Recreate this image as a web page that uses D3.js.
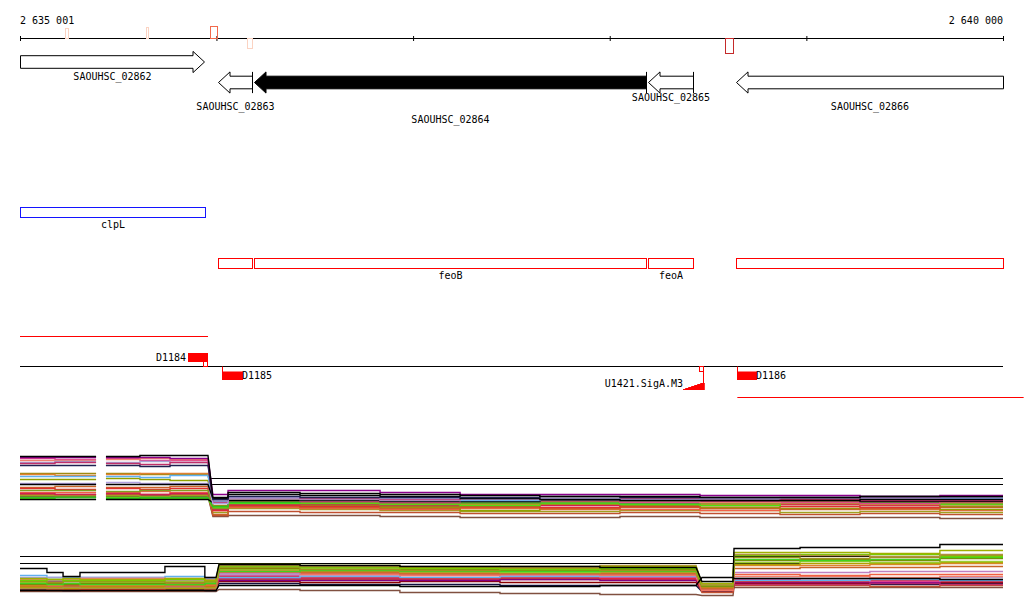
<!DOCTYPE html>
<html><head><meta charset="utf-8">
<script src="https://cdn.jsdelivr.net/npm/d3@7"></script>
<style>
body{margin:0;background:#fff}
svg{display:block}
text{font-family:"DejaVu Sans Mono",monospace;font-size:10px;fill:#000}
</style>
</head><body><svg id="c" width="1024" height="611"></svg>
<script>
// ---------------- DATA ----------------
const viewStart = 2635001, viewEnd = 2640000;
const axisTicks = [2635001, 2636000, 2637000, 2638000, 2639000, 2640000];
const axisLabels = ["2 635 001", "2 640 000"];

const markStarts = [2635230, 2635640, 2635967, 2636157, 2638588];
const markEnds   = [2635247, 2635653, 2636001, 2636182, 2638625];
const markScores = [0.7, 0.75, 0.85, 0.7, 1.0];
const markStrand = [1, 1, 1, -1, -1];
const markColors = ["#fbd3c2", "#fbd3c2", "#f26a4c", "#fbd3c2", "#c42a2a"];

const geneNames  = ["SAOUHSC_02862", "SAOUHSC_02863", "SAOUHSC_02864", "SAOUHSC_02865", "SAOUHSC_02866"];
const geneStarts = [2635001, 2636008, 2636191, 2638194, 2638642];
const geneEnds   = [2635937, 2636180, 2638184, 2638423, 2640000];
const geneStrand = [1, -1, -1, -1, -1];
const geneSelected = [false, false, true, false, false];
const geneTailBar  = [false, true, true, true, false];

const clpNames = ["clpL"], clpStarts = [2635001], clpEnds = [2635940];
const feoNames = ["", "feoB", "feoA", ""];
const feoStarts = [2636008, 2636191, 2638194, 2638642];
const feoEnds   = [2636180, 2638184, 2638423, 2640000];

const transcriptStarts = [2635001, 2638649];
const transcriptEnds   = [2635957, 2640105];
const transcriptStrand = [1, -1];

const promoterNames  = ["D1184", "D1185", "D1186"];
const promoterStarts = [2635855, 2636030, 2638649];
const promoterEnds   = [2635957, 2636134, 2638751];
const promoterStrand = [1, -1, -1];

const motifNames  = ["U1421.SigA.M3"];
const motifStarts = [2638373];
const motifEnds   = [2638479];

// expression panel 1 (probe intervals)
const probeStart1 = [2635001, 2635179, 2635438, 2635611, 2635764, 2635982, 2636059, 2636425, 2636832, 2637239,
                     2637645, 2638052, 2638459, 2638866, 2639273, 2639679];
const probeEnd1   = [2635179, 2635388, 2635611, 2635764, 2635957, 2636059, 2636425, 2636832, 2637239, 2637645,
                     2638052, 2638459, 2638866, 2639273, 2639679, 2640000];
const panel1Refs = [5.2, 4.6];
const panel1RefStart = 2635967;
const panel1Colors = ["#805040","#c05030","#a0a020","#f06048","#90a000","#c86428","#e03030","#a08a10",
  "#d02050","#e08030","#50e010","#80a020","#30c020","#e04090","#f08070","#000000","#60b0f0","#a8a0d0",
  "#c0306a","#b0a0e0","#000000","#202050","#8b008b","#000000"];
const panel1Series = [
 [3.4,3.4,3.4,3.5,3.4,1.4,1.5,1.5,1.4,1.3,1.3,1.4,1.3,1.3,1.3,1.2],
 [3.6,3.6,3.6,3.6,3.6,1.5,1.9,1.8,1.8,1.7,1.7,1.8,1.7,1.6,1.7,1.6],
 [3.5,3.5,3.5,3.4,3.5,1.8,2.2,2.1,2.0,1.9,1.9,2.0,2.0,1.8,1.9,1.8],
 [3.8,3.8,3.8,3.9,3.8,2.0,2.3,2.2,2.1,2.2,2.1,2.1,2.0,2.2,2.1,2.0],
 [5.1,5.1,5.2,5.1,5.0,2.4,2.6,2.5,2.3,2.0,2.2,2.4,2.3,2.2,2.2,2.1],
 [4.3,4.4,4.3,4.3,4.4,1.6,2.4,2.3,2.2,2.3,2.2,2.3,2.2,2.1,2.2,2.3],
 [4.2,4.1,4.2,4.1,4.2,2.0,2.5,2.4,2.5,2.4,2.3,2.4,2.5,2.4,2.3,2.4],
 [5.7,5.7,5.7,5.6,5.6,2.5,2.7,2.6,2.4,2.5,2.6,2.5,2.5,2.6,2.5,2.4],
 [3.7,3.6,3.7,3.6,3.7,2.1,2.6,2.6,2.5,2.6,2.5,2.6,2.7,2.6,2.5,2.6],
 [5.6,5.5,5.6,5.7,5.7,2.3,2.8,2.8,2.7,2.6,2.7,2.7,2.6,2.7,2.6,2.6],
 [3.2,3.3,3.3,3.2,3.2,2.3,2.7,2.7,2.6,2.5,2.7,2.6,2.5,2.8,2.7,2.6],
 [4.0,4.0,3.9,4.0,4.0,2.2,2.9,2.8,2.7,2.7,2.8,2.8,2.7,2.8,2.8,2.7],
 [3.3,3.3,3.2,3.3,3.3,2.4,2.8,2.9,2.8,2.8,2.8,2.7,2.9,2.9,2.8,2.8],
 [7.2,7.1,7.2,7.0,7.0,2.8,3.0,2.9,2.8,2.9,3.0,2.8,2.9,2.8,2.7,2.9],
 [7.0,7.0,7.1,7.2,7.1,2.9,3.1,3.0,2.9,3.0,2.9,2.9,2.8,2.9,2.9,2.8],
 [3.1,3.1,3.1,3.1,3.1,2.8,3.0,3.0,2.9,2.9,3.0,3.0,3.0,3.0,2.9,2.9],
 [5.4,5.4,5.4,5.3,5.5,2.9,3.2,3.2,3.1,3.0,3.1,3.2,3.2,3.1,3.2,3.2],
 [6.8,6.9,6.8,6.9,6.8,3.0,3.2,3.1,3.0,3.1,3.1,3.0,3.1,3.2,3.2,3.1],
 [6.7,6.8,6.7,6.6,6.8,2.8,3.3,3.2,3.1,3.2,3.1,3.2,3.0,3.1,3.0,3.0],
 [4.7,4.7,4.8,4.7,4.7,2.7,3.3,3.3,3.2,3.2,3.2,3.1,3.2,3.3,3.3,3.3],
 [4.6,4.6,4.6,4.6,4.6,3.2,3.6,3.5,3.4,3.2,3.1,3.0,3.0,3.0,3.1,3.1],
 [6.5,6.5,6.5,6.4,6.5,3.1,3.4,3.3,3.3,3.3,3.4,3.3,3.3,3.3,3.4,3.4],
 [7.3,7.3,7.3,7.3,7.2,3.6,4.0,4.0,3.8,3.6,3.6,3.6,3.5,3.5,3.4,3.5],
 [7.4,7.4,7.4,7.5,7.5,3.3,3.8,3.7,3.6,3.5,3.4,3.4,3.3,3.3,3.4,3.4]
];

// expression panel 2 (probe intervals)
const probeStart2 = [2635001, 2635138, 2635220, 2635306, 2635738, 2635941, 2636013, 2636425, 2636933, 2637442,
                     2637950, 2638469, 2638632, 2638968, 2639323, 2639679];
const probeEnd2   = [2635138, 2635220, 2635306, 2635738, 2635941, 2635998, 2636425, 2636933, 2637442, 2637950,
                     2638439, 2638627, 2638968, 2639323, 2639679, 2640000];
const panel2Refs = [4.45, 3.75];
const panel2Colors = ["#805040","#101040","#8b0000","#c05030","#c0306a","#800080","#e02020","#e04090",
  "#60b0f0","#a8a0d8","#f08070","#f06040","#c080c0","#c86428","#e08030","#b0a000","#9acd32","#808000",
  "#40d020","#a09020","#70d000","#b09040","#a0b000","#000000","#000000"];
const panel2Series = [
 [0.9,0.9,0.9,0.9,0.9,0.9,1.1,1.0,0.8,0.7,0.6,0.5,1.3,1.3,1.3,1.3],
 [1.1,1.1,1.0,1.1,1.1,1.0,1.7,1.6,1.6,1.5,1.5,0.9,1.7,1.6,1.6,1.7],
 [1.4,1.5,1.4,1.5,1.4,1.5,1.9,1.8,1.9,1.8,1.8,1.0,1.7,1.7,1.8,1.8],
 [1.0,1.1,1.1,1.0,1.0,1.1,2.1,2.1,2.2,2.2,2.2,0.8,1.5,1.5,1.4,1.5],
 [1.5,1.4,1.5,1.4,1.5,1.4,2.2,2.2,2.1,2.1,2.1,1.1,1.6,1.6,1.7,1.6],
 [2.0,1.9,1.9,2.0,1.9,1.9,2.0,2.0,2.0,2.1,2.0,1.1,1.8,1.8,1.8,1.9],
 [1.2,1.2,1.2,1.1,1.2,1.2,2.4,2.3,2.2,2.3,2.2,1.0,1.9,1.9,2.0,1.9],
 [1.3,1.4,1.3,1.3,1.4,1.3,2.5,2.4,2.5,2.4,2.3,1.2,2.1,2.0,1.9,2.0],
 [2.5,2.3,2.3,2.3,2.4,2.2,2.3,2.4,2.3,2.4,2.4,1.4,2.0,2.0,2.1,2.0],
 [2.3,2.3,2.2,2.3,2.2,2.3,2.6,2.5,2.6,2.5,2.5,1.3,2.2,2.2,2.2,2.3],
 [2.1,2.0,2.1,2.2,2.0,2.1,2.7,2.6,2.5,2.6,2.5,1.0,2.4,2.4,2.3,2.4],
 [1.7,1.6,1.6,1.6,1.7,1.5,2.8,2.7,2.6,2.6,2.6,1.1,2.6,2.5,2.6,2.6],
 [1.9,2.0,2.0,1.9,2.0,2.0,2.7,2.8,2.7,2.7,2.7,1.2,2.8,2.8,2.9,2.9],
 [1.4,1.3,1.4,1.4,1.3,1.4,2.9,2.8,2.7,2.7,2.7,1.2,3.2,3.3,3.3,3.4],
 [1.5,1.5,1.6,1.5,1.5,1.6,3.0,2.9,2.8,2.9,2.8,1.3,3.5,3.5,3.6,3.7],
 [1.3,1.3,1.2,1.3,1.2,1.3,3.2,3.1,3.2,3.2,3.1,1.4,3.6,3.7,3.7,3.8],
 [1.8,1.8,1.7,1.8,1.9,1.8,3.1,3.2,2.9,2.8,2.9,1.5,3.8,3.9,3.8,3.9],
 [1.6,1.7,1.6,1.7,1.6,1.7,3.2,3.0,3.1,3.0,3.1,1.4,4.0,4.1,4.0,4.2],
 [1.7,1.6,1.7,1.6,1.6,1.7,2.9,3.0,2.9,2.9,2.9,1.5,4.1,4.0,4.1,4.3],
 [1.9,1.8,1.9,1.9,1.8,1.9,3.3,3.1,3.0,3.1,3.0,1.5,4.3,4.2,4.3,4.5],
 [2.0,2.1,2.0,2.0,2.1,2.0,3.4,3.3,3.2,3.1,3.2,1.6,4.5,4.6,4.6,4.4],
 [1.2,1.2,1.3,1.2,1.3,1.2,3.5,3.4,3.4,3.3,3.5,1.6,4.6,4.5,4.4,4.6],
 [2.2,2.1,2.2,2.1,2.2,2.0,3.6,3.5,3.3,3.4,3.4,1.7,4.8,4.8,4.7,5.0],
 [1.0,1.0,1.0,1.0,1.0,1.0,1.5,1.5,1.4,1.4,1.5,2.3,2.2,2.2,2.2,2.1],
 [3.2,2.8,2.4,2.8,3.4,2.3,3.6,3.5,3.4,3.4,3.3,1.9,5.2,5.3,5.3,5.6]
];

// ---------------- DRAWING ----------------
const svg = d3.select("#c");
svg.append("rect").attr("width",1024).attr("height",611).attr("fill","#fff");
const x = d3.scaleLinear().domain([viewStart, viewEnd]).range([20, 1003]);

// ruler
const axisY = 38.5;
const ax = svg.append("g").attr("transform","translate(0,36)")
  .call(d3.axisBottom(x).tickValues(axisTicks).tickSize(5).tickFormat(""));
ax.select(".domain").remove();
ax.selectAll(".tick line").attr("stroke","#000");
svg.append("line").attr("x1",x(viewStart)).attr("x2",x(viewEnd)).attr("y1",axisY).attr("y2",axisY)
  .attr("stroke","#000");
svg.append("text").attr("x",x(viewStart)).attr("y",24).text(axisLabels[0]);
svg.append("text").attr("x",x(viewEnd)).attr("y",24).attr("text-anchor","end").text(axisLabels[1]);

const hScale = d3.scaleLinear().domain([0,1]).range([0,14.5]);
markStarts.forEach((s,i)=>{
  const h = hScale(markScores[i]);
  const x0 = Math.round(x(s))+0.5, x1 = Math.round(x(markEnds[i]))+0.5;
  svg.append("rect").attr("x",x0).attr("width",Math.max(2,x1-x0))
    .attr("y", markStrand[i]>0 ? axisY-h : axisY).attr("height",h)
    .attr("fill","none").attr("stroke",markColors[i]).attr("shape-rendering","crispEdges");
});

// genes
const geneLabelY = [80, 110, 122.5, 101, 110];
function arrowPath(x0,x1,strand,cy){
  const bh=6.3, hh=10.6, hl=11.5;
  if(strand>0) return `M${x0},${cy-bh}L${x1-hl},${cy-bh}L${x1-hl},${cy-hh}L${x1},${cy}L${x1-hl},${cy+hh}L${x1-hl},${cy+bh}L${x0},${cy+bh}Z`;
  return `M${x1},${cy-bh}L${x0+hl},${cy-bh}L${x0+hl},${cy-hh}L${x0},${cy}L${x0+hl},${cy+hh}L${x0+hl},${cy+bh}L${x1},${cy+bh}Z`;
}
geneNames.forEach((n,i)=>{
  const x0 = Math.round(x(geneStarts[i]))+0.5, x1 = Math.round(x(geneEnds[i]))+0.5;
  const cy = geneStrand[i]>0 ? 62 : 82.5;
  svg.append("path").attr("d",arrowPath(x0,x1,geneStrand[i],cy))
    .attr("fill",geneSelected[i]?"#000":"#fff").attr("stroke","#000");
  if(geneTailBar[i]){
    const bx = geneStrand[i]>0 ? x0 : x1;
    svg.append("line").attr("x1",bx).attr("x2",bx).attr("y1",cy-10.6).attr("y2",cy+10.6).attr("stroke","#000");
  }
  svg.append("text").attr("x",(x0+x1)/2).attr("y",geneLabelY[i]).attr("text-anchor","middle").text(n);
});

// clpL
clpNames.forEach((n,i)=>{
  const x0 = Math.round(x(clpStarts[i]))+0.5, x1 = Math.round(x(clpEnds[i]))+0.5;
  svg.append("rect").attr("x",x0).attr("y",207.5).attr("width",x1-x0).attr("height",10)
    .attr("fill","none").attr("stroke","#1414ff").attr("shape-rendering","crispEdges");
  svg.append("text").attr("x",(x0+x1)/2).attr("y",228).attr("text-anchor","middle").text(n);
});

// feo boxes
feoNames.forEach((n,i)=>{
  const x0 = Math.round(x(feoStarts[i]))+0.5, x1 = Math.round(x(feoEnds[i]))+0.5;
  svg.append("rect").attr("x",x0).attr("y",258.5).attr("width",x1-x0).attr("height",10)
    .attr("fill","none").attr("stroke","#ff0000").attr("shape-rendering","crispEdges");
  if(n) svg.append("text").attr("x",(x0+x1)/2).attr("y",279).attr("text-anchor","middle").text(n);
});

// transcripts / strand line
const strandY = 366.5;
svg.append("line").attr("x1",x(viewStart)).attr("x2",x(viewEnd)).attr("y1",strandY).attr("y2",strandY).attr("stroke","#000");
transcriptStarts.forEach((s,i)=>{
  const yy = transcriptStrand[i]>0 ? 336.5 : 397.5;
  svg.append("line").attr("x1",x(s)).attr("x2",x(transcriptEnds[i])).attr("y1",yy).attr("y2",yy).attr("stroke","#ff0000");
});

// promoters
promoterNames.forEach((n,i)=>{
  const x0 = Math.round(x(promoterStarts[i])), x1 = Math.round(x(promoterEnds[i]));
  if(promoterStrand[i]>0){
    svg.append("rect").attr("x",x0).attr("y",353).attr("width",x1-x0).attr("height",9).attr("fill","#ff0000");
    svg.append("rect").attr("x",x1-4.5).attr("y",361.5).attr("width",4).attr("height",5).attr("fill","#fff")
      .attr("stroke","#ff0000").attr("shape-rendering","crispEdges");
    svg.append("text").attr("x",x0-2).attr("y",361).attr("text-anchor","end").text(n);
  } else {
    svg.append("line").attr("x1",x0+0.5).attr("x2",x0+0.5).attr("y1",strandY).attr("y2",372).attr("stroke","#ff0000");
    svg.append("rect").attr("x",x0).attr("y",371.5).attr("width",x1-x0).attr("height",8.5).attr("fill","#ff0000");
    svg.append("text").attr("x",x1-1).attr("y",378.7).text(n);
  }
});

// motif
motifNames.forEach((n,i)=>{
  const x0 = Math.round(x(motifStarts[i])), x1 = Math.round(x(motifEnds[i]));
  svg.append("rect").attr("x",x1-4.5).attr("y",strandY).attr("width",4).attr("height",4.5).attr("fill","#fff")
    .attr("stroke","#ff0000").attr("shape-rendering","crispEdges");
  svg.append("line").attr("x1",x1-0.5).attr("x2",x1-0.5).attr("y1",371).attr("y2",389.5).attr("stroke","#ff0000");
  svg.append("path").attr("d",`M${x0},389.5L${x1},389.5L${x1},382.5Z`).attr("fill","#ff0000").attr("stroke","#ff0000")
    .attr("stroke-width",0.8).attr("shape-rendering","crispEdges");
  svg.append("text").attr("x",x0).attr("y",387).attr("text-anchor","end").text(n);
});

// expression panels: each probe drawn over its interval, neighbouring probes joined
function drawPanel(starts, ends, series, colors, y, refs, refStart){
  const g = svg.append("g");
  refs.forEach(r=>{
    const yy = Math.round(y(r))+0.5;
    g.append("line").attr("x1",x(refStart)).attr("x2",x(viewEnd)).attr("y1",yy).attr("y2",yy)
      .attr("stroke","#000").attr("stroke-width",1.2);
  });
  const line = d3.line().defined(d=>d.v!=null).x(d=>x(d.p)).y(d=>Math.round(y(d.v))+0.5);
  series.forEach((vals,i)=>{
    const pts = [];
    vals.forEach((v,j)=>{
      if(j>0 && starts[j]-ends[j-1] > 40) pts.push({p:starts[j], v:null});
      pts.push({p:starts[j], v:v}); pts.push({p:ends[j], v:v});
    });
    g.append("path").attr("d",line(pts)).attr("fill","none").attr("stroke",colors[i])
      .attr("stroke-width",1.4);
  });
}
const y1 = d3.scaleLinear().domain([0,10]).range([530,430]);
const y2 = d3.scaleLinear().domain([0,6]).range([600,540]);
drawPanel(probeStart1, probeEnd1, panel1Series, panel1Colors, y1, panel1Refs, panel1RefStart);
drawPanel(probeStart2, probeEnd2, panel2Series, panel2Colors, y2, panel2Refs, viewStart);
</script>
</body></html>
